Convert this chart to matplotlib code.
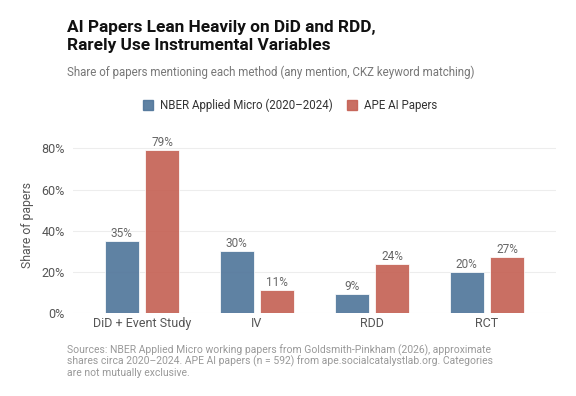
import matplotlib
matplotlib.use("Agg")
import matplotlib.pyplot as plt
import numpy as np
from matplotlib.patches import Patch

categories = ["DiD + Event Study", "IV", "RDD", "RCT"]
nber = [0.35, 0.30, 0.09, 0.20]
ape = [0.79, 0.11, 0.24, 0.27]
series_names = ["NBER Applied Micro (2020\u20132024)", "APE AI Papers"]
yticks = [0, 0.2, 0.4, 0.6, 0.8]

blue = "#4E7499"
red = "#C45F52"

plt.rcParams['font.family'] = ['Roboto', 'DejaVu Sans']

fig = plt.figure(figsize=(5.76, 3.96), dpi=100)
ax = fig.add_axes([73/576, 1-313/396, (556-73)/576, (313-136)/396])

x = np.arange(len(categories))
w = 0.30
off = 0.176
ax.bar(x - off, nber, w, color=blue, alpha=0.9, edgecolor="white", linewidth=0.6, zorder=3)
ax.bar(x + off, ape, w, color=red, alpha=0.9, edgecolor="white", linewidth=0.6, zorder=3)
for xi, v in zip(x, nber):
    ax.text(xi - off, v + 0.005, f"{v*100:.0f}%", ha="center", va="bottom", fontsize=8.5, color="#666666")
for xi, v in zip(x, ape):
    ax.text(xi + off, v + 0.005, f"{v*100:.0f}%", ha="center", va="bottom", fontsize=8.5, color="#666666")

ax.set_xlim(-0.6, 3.6)
ax.set_ylim(0, 0.86)
ax.set_yticks(yticks)
ax.set_yticklabels([f"{t*100:.0f}%" for t in yticks])
ax.set_xticks(x)
ax.set_xticklabels(categories)
ax.grid(axis="y", color="#EDEDED", linewidth=0.8, zorder=0)
ax.set_axisbelow(True)
for s in ax.spines.values():
    s.set_visible(False)
ax.tick_params(axis="both", length=0, labelsize=9, labelcolor="#555555", pad=3)
ax.tick_params(axis="y", pad=6)
ax.set_ylabel("Share of papers", fontsize=8.8, color="#555555", labelpad=5)

fig.text(67/576, 1-20/396, "AI Papers Lean Heavily on DiD and RDD,\nRarely Use Instrumental Variables",
         fontsize=12.4, fontweight="bold", color="#111111", va="top", ha="left", linespacing=1.28)
fig.text(67/576, 1-72/396, "Share of papers mentioning each method (any mention, CKZ keyword matching)",
         fontsize=8.3, color="#777777", va="center", ha="left")

handles = [Patch(color=blue, alpha=0.9), Patch(color=red, alpha=0.9)]
fig.legend(handles, series_names, loc="center", bbox_to_anchor=(290/576, 1-105/396), ncol=2,
           frameon=False, fontsize=8.3, handlelength=0.9, handleheight=0.9, handletextpad=0.6,
           columnspacing=1.2, labelcolor="#333333")

fig.text(67/576, 1-344/396,
         "Sources: NBER Applied Micro working papers from Goldsmith-Pinkham (2026), approximate\n"
         "shares circa 2020\u20132024. APE AI papers (n = 592) from ape.socialcatalystlab.org. Categories\n"
         "are not mutually exclusive.",
         fontsize=7.5, color="#999999", va="top", ha="left", linespacing=1.05)

fig.savefig("out.png", dpi=100)
